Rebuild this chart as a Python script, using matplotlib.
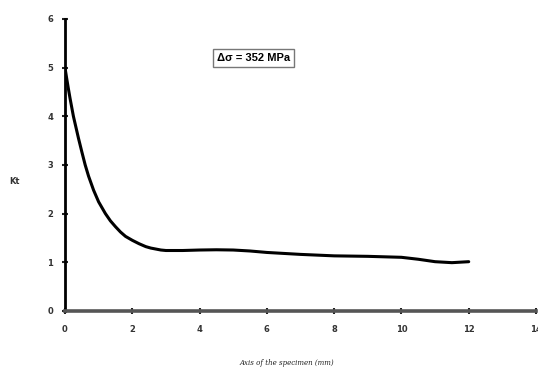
import matplotlib
matplotlib.use("Agg")
import matplotlib.pyplot as plt

# Kt along the axis of the specimen
x_mm = [0, 0.05, 0.1, 0.15, 0.25, 0.4, 0.5, 0.6, 0.7, 0.85, 1.0, 1.2, 1.35, 1.5,
        1.65, 1.8, 2.0, 2.2, 2.4, 2.55, 2.7, 2.85, 3.0, 3.5, 4.0, 4.5, 5.0, 5.5,
        6.0, 7.0, 8.0, 9.0, 10.0, 10.5, 11.0, 11.5, 12.0]
kt = [5.0, 4.78, 4.57, 4.37, 4.0, 3.55, 3.27, 3.0, 2.77, 2.48, 2.24, 2.0, 1.85, 1.73,
      1.62, 1.53, 1.45, 1.38, 1.32, 1.29, 1.27, 1.25, 1.24, 1.24, 1.25, 1.255, 1.25, 1.23,
      1.2, 1.16, 1.13, 1.12, 1.1, 1.06, 1.01, 0.99, 1.01]

x_ticks = [0, 2, 4, 6, 8, 10, 12, 14]
y_ticks = [0, 1, 2, 3, 4, 5, 6]

fig = plt.figure(figsize=(5.38, 3.68), dpi=100)
ax = fig.add_axes([0.1208, 0.1554, 0.8755, 0.793])

ax.plot(x_mm, kt, color="black", linewidth=2.2, solid_capstyle="round",
        solid_joinstyle="round")

ax.set_xlim(0, 14)
ax.set_ylim(0, 6)
ax.set_xticks(x_ticks)
ax.set_yticks(y_ticks)

for s in ["top", "right"]:
    ax.spines[s].set_visible(False)
ax.spines["left"].set_linewidth(2)
ax.spines["left"].set_color("black")
ax.spines["bottom"].set_linewidth(2.6)
ax.spines["bottom"].set_color("#555555")

ax.tick_params(direction="inout", length=5, width=1.5, color="#222222",
               labelsize=6, labelcolor="#333333")
ax.tick_params(axis="x", pad=8)
ax.tick_params(axis="y", pad=6)
for lab in ax.get_xticklabels() + ax.get_yticklabels():
    lab.set_fontweight("bold")

ax.text(5.6, 5.2, "Δσ = 352 MPa", fontsize=8, fontweight="bold",
        family=["Liberation Sans", "DejaVu Sans"], ha="center", va="center",
        bbox=dict(boxstyle="square,pad=0.35", facecolor="white",
                  edgecolor="#777777", linewidth=1))

fig.text(15 / 538, 1 - 182 / 368, "Kt", fontsize=6, fontweight="bold",
         color="#333333", ha="center", va="center")
fig.text(287 / 538, 1 - 363 / 368, "Axis of the specimen (mm)", fontsize=5,
         style="italic", family="serif", color="#222222", ha="center", va="center")

fig.savefig("out.png", dpi=100)
